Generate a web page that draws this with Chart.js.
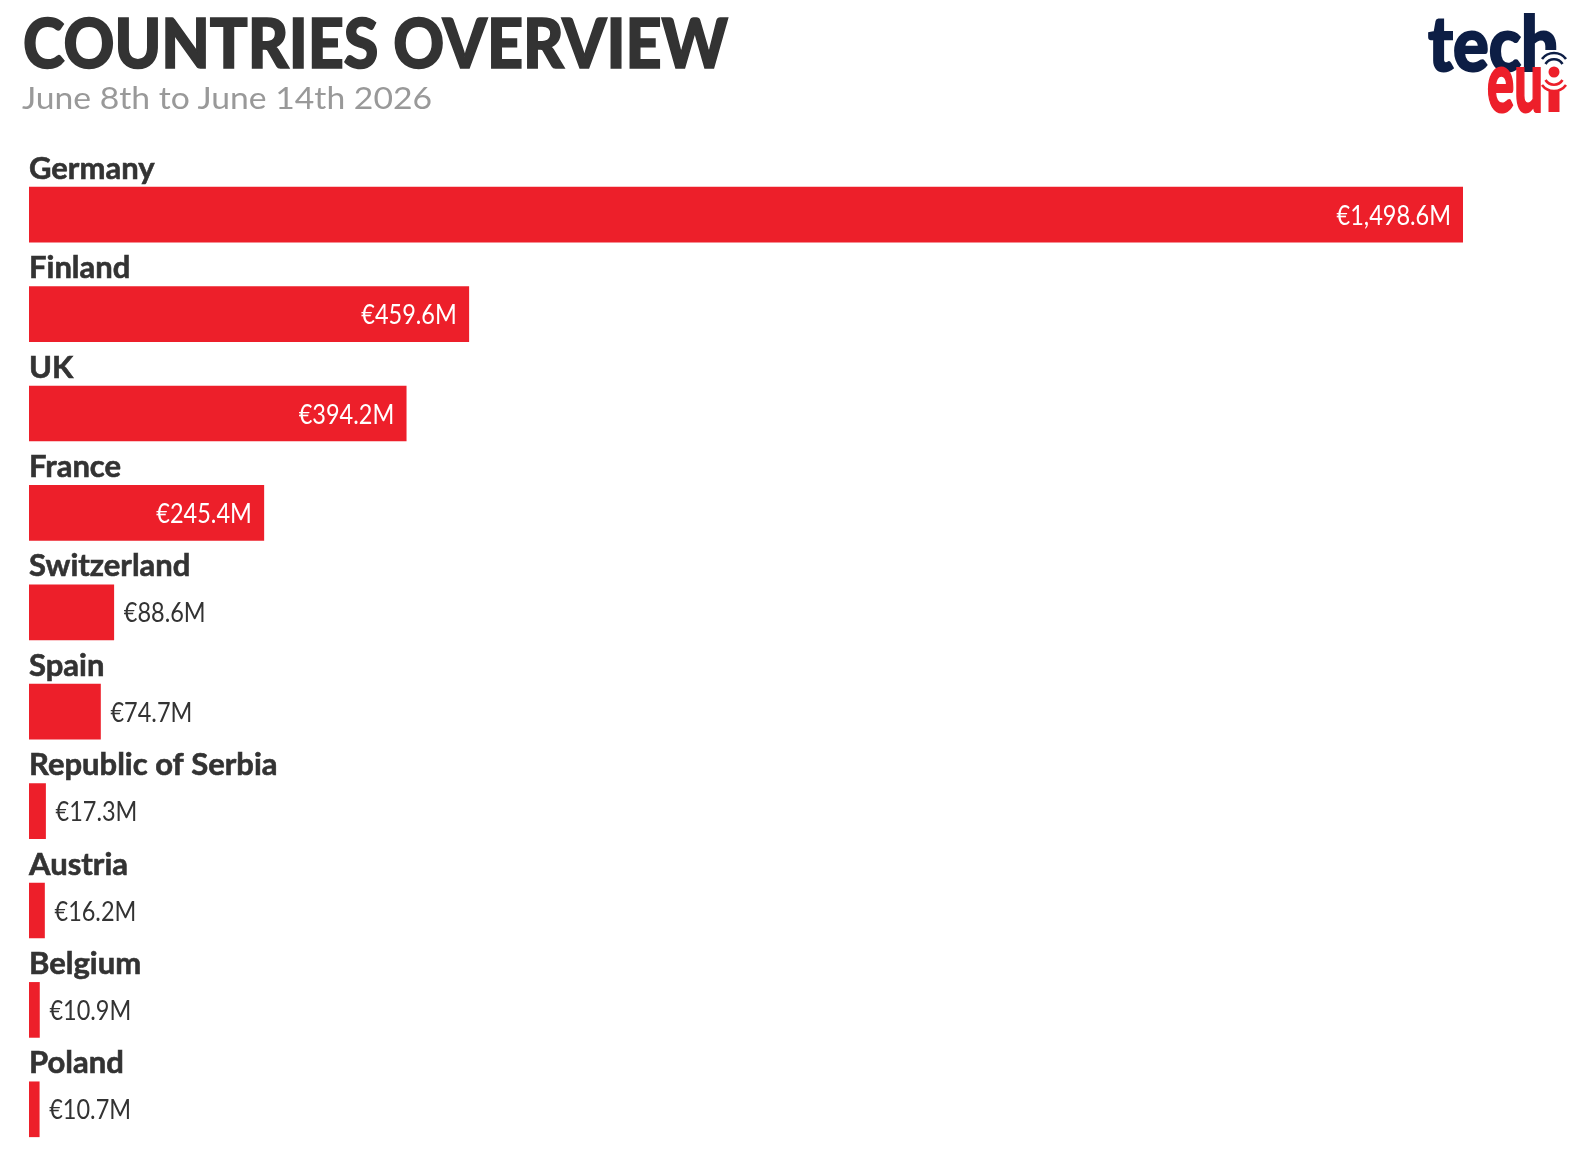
<!DOCTYPE html>
<html>
<head>
<meta charset="utf-8">
<script src="https://cdn.jsdelivr.net/npm/chart.js@4.4.1/dist/chart.umd.min.js"></script>
<style>
  html, body { margin: 0; padding: 0; background: #fff; }
  .wrap { position: relative; width: 1588px; height: 1168px; overflow: hidden; }
  #chart { position: absolute; left: 0; top: 0; }
  .head { position: absolute; left: 0; top: 0; pointer-events: none; }
</style>
</head>
<body>
<div class="wrap">
  <canvas id="chart" width="1588" height="1168"></canvas>
  <svg class="head" width="1588" height="130" xmlns="http://www.w3.org/2000/svg">
    <text x="23" y="68" font-family="Lato, 'Open Sans', sans-serif" font-weight="900" font-size="68" fill="#333333"
          stroke="#333333" stroke-width="1.6" textLength="705" lengthAdjust="spacingAndGlyphs">COUNTRIES OVERVIEW</text>
    <text x="22" y="109" font-family="Lato, 'Open Sans', sans-serif" font-size="31" fill="#999999"
          textLength="410" lengthAdjust="spacingAndGlyphs">June 8th to June 14th 2026</text>
    <!-- logo -->
    <text x="1428" y="71" font-family="Lato, sans-serif" font-weight="900" font-size="76" fill="#0d1e45"
          stroke="#0d1e45" stroke-width="2" textLength="131" lengthAdjust="spacingAndGlyphs">tech</text>
    <rect x="1545" y="50" width="18" height="24" fill="#fff"/>
    <path d="M1545.5 64 A10 10 0 0 1 1562.5 64" fill="none" stroke="#0d1e45" stroke-width="2.6"/>
    <path d="M1542 59 A15 15 0 0 1 1566 59" fill="none" stroke="#0d1e45" stroke-width="2.6"/>
    <circle cx="1554" cy="72" r="5.5" fill="#ed1f2a"/>
    <path d="M1545.5 80 A10 10 0 0 0 1562.5 80" fill="none" stroke="#ed1f2a" stroke-width="2.6"/>
    <path d="M1542 85 A15 15 0 0 0 1566 85" fill="none" stroke="#ed1f2a" stroke-width="2.6"/>
    <rect x="1548.5" y="90" width="11" height="22" fill="#ed1f2a"/>
    <text x="1487" y="112" font-family="Lato, sans-serif" font-weight="900" font-size="86" fill="#ed1f2a"
          stroke="#ed1f2a" stroke-width="2" textLength="56" lengthAdjust="spacingAndGlyphs">eu</text>
  </svg>
</div>
<script>
const countries = ['Germany', 'Finland', 'UK', 'France', 'Switzerland', 'Spain',
  'Republic of Serbia', 'Austria', 'Belgium', 'Poland'];
const funding = [1498.6, 459.6, 394.2, 245.4, 88.6, 74.7, 17.3, 16.2, 10.9, 10.7];

const RED = '#ed1f2a';
const DARK = '#333333';

function money(v) {
  return '€' + v.toLocaleString('en-US', { minimumFractionDigits: 1, maximumFractionDigits: 1 }) + 'M';
}

// names above bars, values inside / beside bars
const barLabels = {
  id: 'barLabels',
  afterDatasetsDraw(chart) {
    const ctx = chart.ctx;
    const meta = chart.getDatasetMeta(0);
    const sx = 0.87;
    meta.data.forEach((bar, i) => {
      const half = bar.height / 2;
      ctx.save();
      ctx.font = 'bold 31px Lato, "Open Sans", sans-serif';
      ctx.fillStyle = DARK;
      ctx.strokeStyle = DARK;
      ctx.lineWidth = 0.6;
      ctx.textAlign = 'left';
      ctx.textBaseline = 'alphabetic';
      ctx.fillText(chart.data.labels[i], bar.base, bar.y - half - 8.5);
      ctx.strokeText(chart.data.labels[i], bar.base, bar.y - half - 8.5);
      ctx.restore();

      const txt = money(funding[i]);
      ctx.save();
      ctx.font = '27px Lato, "Open Sans", sans-serif';
      const w = ctx.measureText(txt).width * sx;
      const len = bar.x - bar.base;
      const by = bar.y + 10;
      if (w + 24 <= len) {
        ctx.translate(bar.x - 12, by);
        ctx.scale(sx, 1);
        ctx.fillStyle = '#ffffff';
        ctx.textAlign = 'right';
      } else {
        ctx.translate(bar.x + 10, by);
        ctx.scale(sx, 1);
        ctx.fillStyle = DARK;
        ctx.textAlign = 'left';
      }
      ctx.fillText(txt, 0, 0);
      ctx.restore();
    });
  }
};

new Chart(document.getElementById('chart'), {
  type: 'bar',
  data: {
    labels: countries,
    datasets: [{
      data: funding,
      backgroundColor: RED,
      borderWidth: 0,
      barThickness: 55
    }]
  },
  options: {
    indexAxis: 'y',
    responsive: false,
    animation: false,
    layout: { padding: { left: 29, right: 125, top: 165, bottom: 9 } },
    scales: {
      x: { display: false, min: 0, max: Math.max(...funding) },
      y: { display: false }
    },
    plugins: {
      legend: { display: false },
      tooltip: { enabled: false }
    }
  },
  plugins: [barLabels]
});
</script>
</body>
</html>
